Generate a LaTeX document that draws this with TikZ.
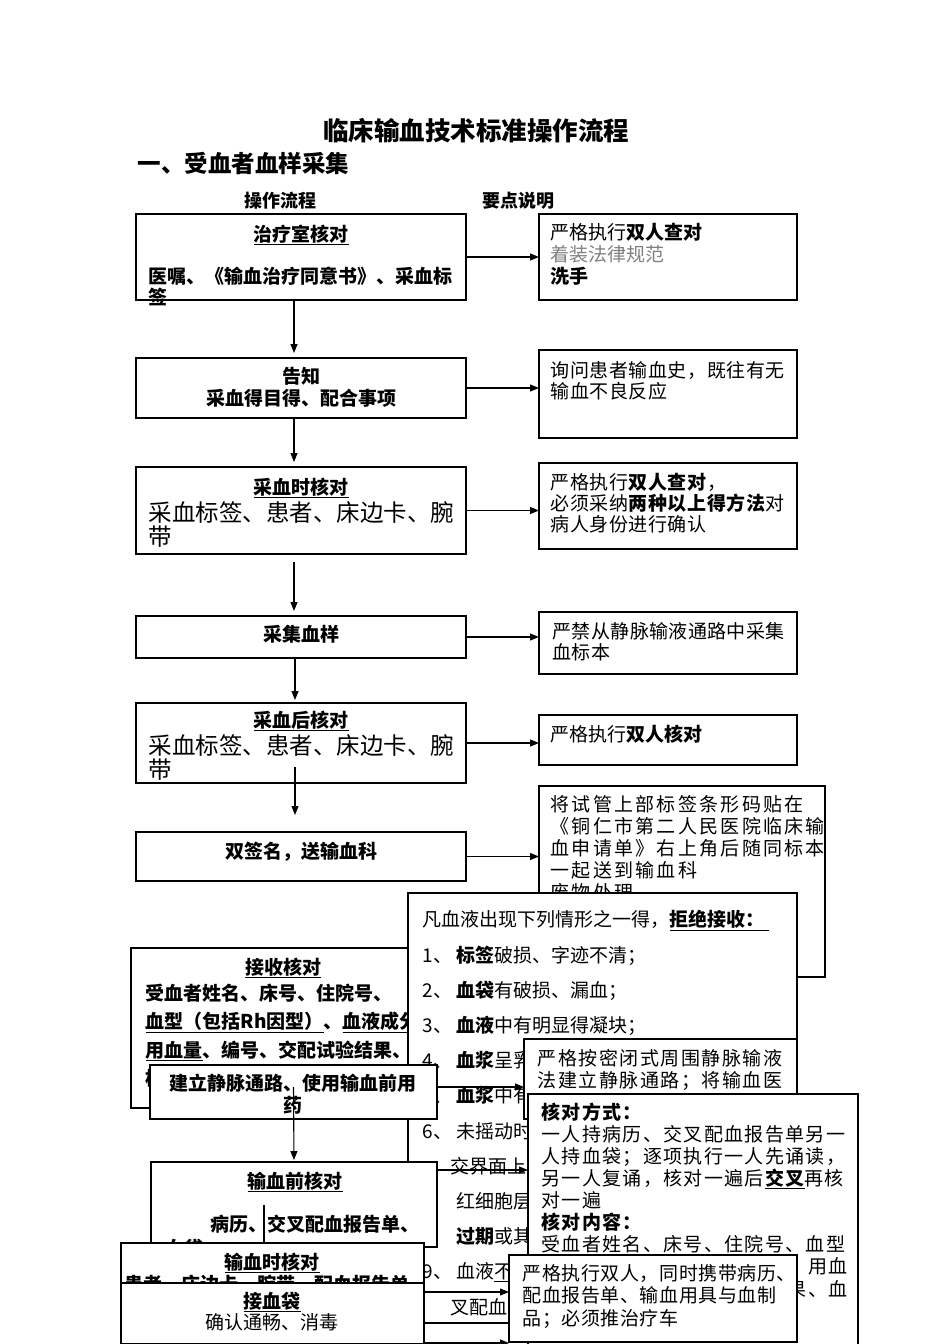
\documentclass[tikz,border=0pt]{standalone}
\usepackage{fontspec}
\setmainfont{Noto Sans CJK SC}
\usepackage{tikz}
\usetikzlibrary{arrows.meta}

\begin{document}
\begin{tikzpicture}[x=1pt,y=-1pt,>={Triangle[length=9pt,width=7pt]},line width=1.1pt]

        \tikzstyle{box}=[draw=black, fill=white, line width=1.2pt, anchor=north west, inner sep=0pt, outer sep=0pt]
        \tikzstyle{txt}=[anchor=base west, inner sep=0pt, align=left, font=\fontsize{19}{22}\selectfont]
        \tikzstyle{ctxt}=[anchor=base, inner sep=0pt, align=center, font=\bfseries\fontsize{19}{22}\selectfont]
        \tikzstyle{big}=[anchor=base west, inner sep=0pt, align=left, font=\fontsize{23.5}{24}\selectfont]

        \useasboundingbox (0,0) rectangle (950,1344);
        \clip (0,0) rectangle (950,1344);

        % headings (multi-line nodes sit on the baseline of their last line)
        \node[anchor=base, inner sep=0pt, font=\bfseries\fontsize{25.5}{28}\selectfont] (title) at (476,140) {临床输血技术标准操作流程};
        \node[anchor=base west, inner sep=0pt, font=\bfseries\fontsize{23.5}{26}\selectfont] (part) at (137,172) {一、受血者血样采集};
        \node[ctxt, font=\bfseries\fontsize{18}{20}\selectfont] (flow) at (280,207) {操作流程};
        \node[ctxt, font=\bfseries\fontsize{18}{20}\selectfont] (note) at (518,207) {要点说明};

        % left column
        \node[box, minimum width=330pt, minimum height=86pt] (b1) at (136,214) {};
        \node[ctxt] (b1h) at (301,241) {\underline{治疗室核对}};
        \node[txt, font=\bfseries\fontsize{19}{21}\selectfont] (b1t) at (148,304) {医嘱、《输血治疗同意书》、采血标\\签};

        \node[box, minimum width=330pt, minimum height=60pt] (b2) at (136,358) {};
        \node[ctxt] (b2t) at (301,405) {告知\\采血得目得、配合事项};

        \node[box, minimum width=330pt, minimum height=87pt] (b3) at (136,467) {};
        \node[ctxt] (b3h) at (301,494) {\underline{采血时核对}};
        \node[big] (b3t) at (148,545) {采血标签、患者、床边卡、腕\\带};

        \node[box, minimum width=330pt, minimum height=42pt] (b4) at (136,616) {};
        \node[ctxt] (b4t) at (301,641) {采集血样};

        \node[box, minimum width=330pt, minimum height=80pt] (b5) at (136,703) {};
        \node[ctxt] (b5h) at (301,727) {\underline{采血后核对}};
        \node[big] (b5t) at (148,778) {采血标签、患者、床边卡、腕\\带};

        \node[box, minimum width=330pt, minimum height=49pt] (b6) at (136,832) {};
        \node[ctxt] (b6t) at (301,858) {双签名，送输血科};

        % right column
        \node[box, minimum width=258pt, minimum height=86pt] (r1) at (539,214) {};
        \node[txt] (r1t) at (550,283) {严格执行\textbf{双人查对}\\\textcolor{gray}{着装法律规范}\\\textbf{洗手}};

        \node[box, minimum width=258pt, minimum height=88pt] (r2) at (539,350) {};
        \node[txt, font=\fontsize{19}{21}\selectfont\addfontfeature{LetterSpace=3}] (r2t) at (550,398) {询问患者输血史，既往有无\\输血不良反应};

        \node[box, minimum width=258pt, minimum height=86pt] (r3) at (539,463) {};
        \node[txt, font=\fontsize{19}{21}\selectfont\addfontfeature{LetterSpace=3}] (r3t) at (550,531) {严格执行\textbf{双人查对}，\\必须采纳\textbf{两种以上得方法}对\\病人身份进行确认};

        \node[box, minimum width=258pt, minimum height=62pt] (r4) at (539,612) {};
        \node[txt, font=\fontsize{19}{21}\selectfont\addfontfeature{LetterSpace=2}] (r4t) at (552,659) {严禁从静脉输液通路中采集\\血标本};

        \node[box, minimum width=258pt, minimum height=50pt] (r5) at (539,715) {};
        \node[txt] (r5t) at (550,741) {严格执行\textbf{双人核对}};

        \node[box, minimum width=286pt, minimum height=191pt] (r6) at (539,786) {};
        \node[txt, font=\fontsize{19}{22}\selectfont\addfontfeature{LetterSpace=12}] (r6t) at (550,899) {将试管上部标签条形码贴在\\《铜仁市第二人民医院临床输\\血申请单》右上角后随同标本\\一起送到输血科\\废物处理};

        \draw[->] (b1) -- (r1);
        \draw[->] (b2.east) -- (b2.east -| r2.west);
        \draw[->] (b3.east) -- (b3.east -| r3.west);
        \draw[->] (b4.east) -- (b4.east -| r4.west);
        \draw[->] (b5.east) -- (b5.east -| r5.west);
        \draw[->] (b6.east) -- (b6.east -| r6.west);

        \draw[->, shorten >=5pt] ([xshift=-7pt]b1.south) -- ([xshift=-7pt]b2.north);
        \draw[->, shorten >=5pt] ([xshift=-7pt]b2.south) -- ([xshift=-7pt]b3.north);
        \draw[->, shorten <=8pt, shorten >=5pt] ([xshift=-7pt]b3.south) -- ([xshift=-7pt]b4.north);
        \draw[->, shorten >=3pt] ([xshift=-6pt]b4.south) -- ([xshift=-6pt]b5.north);
        \draw[->, shorten <=-16pt, shorten >=17pt] ([xshift=-6pt]b5.south) -- ([xshift=-6pt]b6.north);

        % lower part, boxes lying over one another
        \node[box, minimum width=339pt, minimum height=160pt] (jb) at (131,948) {};
        \node[ctxt] (jbh) at (283,974) {\underline{接收核对}};
        \node[txt, font=\bfseries\fontsize{19}{28.5}\selectfont] (jbt) at (145,1085.5) {受血者姓名、床号、住院号、\\\underline{血型（包括Rh因型）}、\underline{血液成分}\\\underline{用血量}、编号、交配试验结果、\\核};

        \node[box, minimum width=389pt, minimum height=480pt] (fb) at (408,893) {};
        \node[txt, font=\fontsize{19}{35.2}\selectfont] (fbt) at (422,1314) {凡血液出现下列情形之一得，\textbf{\underline{拒绝接收：\hspace{4pt}}}\\
            1、 \textbf{标签}破损、字迹不清；\\
            2、 \textbf{血袋}有破损、漏血；\\
            3、 \textbf{血液}中有明显得凝块；\\
            4、 \textbf{血浆}呈乳\\
            5、 \textbf{血浆}中有\\
            6、 未摇动时\\
            \hspace*{28pt}交界面上\\
            \hspace*{34pt}红细胞层\\
            \hspace*{34pt}\textbf{过期}或其\\
            9、 血液\underline{不}\\
            \hspace*{28pt}叉配血};

        \node[box, minimum width=287pt, minimum height=54pt] (lb1) at (150,1065) {};
        \node[ctxt] (lb1t) at (293,1112) {建立静脉通路、使用输血前用\\药};

        \node[box, minimum width=273pt, minimum height=80pt] (rb1) at (524,1039) {};
        \node[txt, font=\fontsize{19}{22}\selectfont\addfontfeature{LetterSpace=8}] (rb1t) at (537,1087) {严格按密闭式周围静脉输液\\法建立静脉通路；将输血医};

        \node[box, minimum width=330pt, minimum height=270pt] (rb2) at (528,1094) {};
        \node[txt, font=\fontsize{19}{21.9}\selectfont\addfontfeature{LetterSpace=7}] (rb2t) at (541,1251) {\textbf{核对方式：}\\一人持病历、交叉配血报告单另一\\人持血袋；逐项执行一人先诵读，\\另一人复诵，核对一遍后\textbf{\underline{交叉}}再核\\对一遍\\\textbf{核对内容：}\\受血者姓名、床号、住院号、血型};
        \node[anchor=base east, inner sep=0pt, font=\fontsize{19}{22}\selectfont\addfontfeature{LetterSpace=7}] (rb2a) at (848,1273) {用血};
        \node[anchor=base east, inner sep=0pt, font=\fontsize{19}{22}\selectfont\addfontfeature{LetterSpace=7}] (rb2b) at (848,1296) {果、血};

        \node[box, minimum width=286pt, minimum height=85pt] (lb2) at (151,1162) {};
        \node[ctxt] (lb2h) at (295,1188) {\underline{输血前核对}};
        \node[txt, font=\bfseries\fontsize{19}{22}\selectfont] (lb2t) at (210,1231) {病历、交叉配血报告单、};
        \node[txt, font=\bfseries\fontsize{19}{22}\selectfont] (lb2s) at (165,1255) {血袋};
        \draw (264,1205) -- (264,1242);

        \draw[->] ([yshift=5pt]lb1.east) -- ([yshift=5pt]lb1.east -| rb1.west);
        \draw[->, shorten >=2pt] ([yshift=5pt]lb1.center) -- (lb2.north);
        \draw[->] ([yshift=-8pt]lb2.north east) -- ([yshift=-8pt]lb2.north east -| rb2.west);

        \node[box, minimum width=303pt, minimum height=80pt] (lb3) at (121,1243) {};
        \node[ctxt] (lb3h) at (272,1269) {\underline{输血时核对}};
        \node[txt, font=\bfseries\fontsize{19}{22}\selectfont] (lb3t) at (124,1291) {患者、床边卡、腕带、配血报告单};

        \node[box, minimum width=303pt, minimum height=61pt] (lb4) at (121,1283) {};
        \node[ctxt] (lb4h) at (272,1308) {\underline{接血袋}};
        \node[ctxt, font=\fontsize{19}{22}\selectfont] (lb4t) at (272,1329) {确认通畅、消毒};

        \node[box, minimum width=288pt, minimum height=87pt] (rb3) at (509,1255) {};
        \node[txt, font=\fontsize{19}{22.5}\selectfont\addfontfeature{LetterSpace=3}] (rb3t) at (522,1325) {严格执行双人，同时携带病历、\\配血报告单、输血用具与血制\\品；必须推治疗车};

        \draw[->] ([yshift=-49pt]lb3.north east) -- ([yshift=-49pt]lb3.north east -| rb3.west);
        \draw ([yshift=-40pt]lb4.north east) -- ([yshift=-40pt]lb4.north east -| rb3.west);
        \draw[->] ([yshift=-60pt]lb4.north east) -- ([yshift=-60pt]lb4.north east -| rb3.west);

\end{tikzpicture}
\end{document}
